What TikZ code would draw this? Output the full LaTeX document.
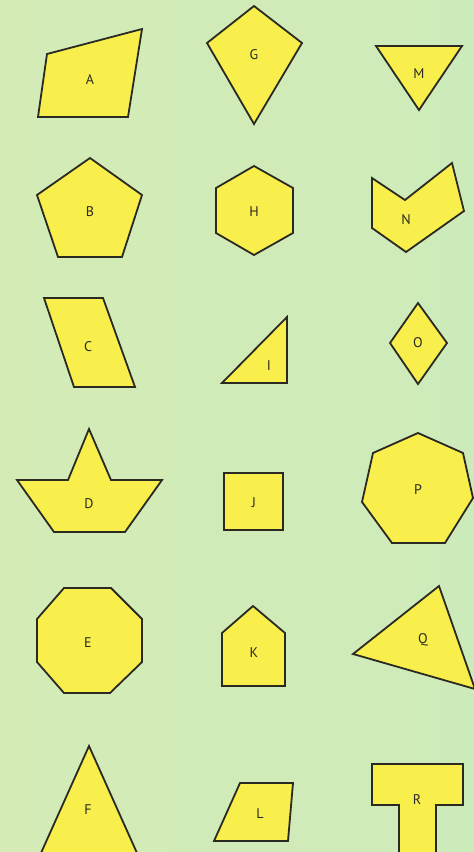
\documentclass[tikz,border=0pt]{standalone}
\usepackage{fontspec}
\setmainfont{PT Sans}
\definecolor{bgg}{HTML}{CDEBBA}
\definecolor{bgl}{HTML}{D4EBB6}
\definecolor{shapey}{HTML}{F8EE4C}
\definecolor{edge}{HTML}{2A2A22}
\begin{document}
\begin{tikzpicture}[x=1pt,y=-1pt,
  shp/.style={fill=shapey,draw=edge,line width=1.8pt,line join=miter},
  lbl/.style={font=\fontsize{14}{14}\selectfont,text=edge,inner sep=0pt}]
\useasboundingbox (0,0) rectangle (474,852);
\shade[left color=bgl,right color=bgg] (0,0) rectangle (474,852);
% column 1
\draw[shp] (47,54) -- (142,29) -- (128,117) -- (38,117) -- cycle;
\node[lbl] (A) at (90,80) {A};
\draw[shp] (90,158) -- (142,195) -- (122,257) -- (58,257) -- (37,195) -- cycle;
\node[lbl] (B) at (90,212) {B};
\draw[shp] (44,298) -- (103,298) -- (135,387) -- (74,387) -- cycle;
\node[lbl] (C) at (88,347) {C};
\draw[shp] (17,480) -- (68,480) -- (89,429) -- (111,480) -- (162,480) -- (125,532) -- (54,532) -- cycle;
\node[lbl] (D) at (89,504) {D};
\draw[shp] (64,588) -- (111,588) -- (142,619) -- (142,662) -- (110,693) -- (64,693) -- (37,662) -- (37,619) -- cycle;
\node[lbl] (E) at (88,643) {E};
\draw[shp] (89,746) -- (137,853) -- (41,853) -- cycle;
\node[lbl] (F) at (88,810) {F};
% column 2
\draw[shp] (254,6) -- (302,43) -- (254,124) -- (207,43) -- cycle;
\node[lbl] (G) at (254,55) {G};
\draw[shp] (254,166) -- (293,188) -- (293,233) -- (254,255) -- (216,233) -- (216,188) -- cycle;
\node[lbl] (H) at (254,212) {H};
\draw[shp] (222,383) -- (287,317) -- (287,383) -- cycle;
\node[lbl] (I) at (269,366) {I};
\draw[shp] (224,473) rectangle (283,530);
\node[lbl] (J) at (254,503) {J};
\draw[shp] (253,606) -- (285,633) -- (285,686) -- (222,686) -- (222,633) -- cycle;
\node[lbl] (K) at (254,653) {K};
\draw[shp] (240,783) -- (293,783) -- (288,841) -- (214,841) -- cycle;
\node[lbl] (L) at (260,814) {L};
% column 3
\draw[shp] (376,46) -- (462,46) -- (419,110) -- cycle;
\node[lbl] (M) at (419,74) {M};
\draw[shp] (372,178) -- (405,200) -- (452,163) -- (464,211) -- (406,252) -- (372,228) -- cycle;
\node[lbl] (N) at (406,220) {N};
\draw[shp] (418,303) -- (447,343) -- (418,384) -- (390,343) -- cycle;
\node[lbl] (O) at (418,343) {O};
\draw[shp] (418,433) -- (463,453) -- (473,498) -- (445,543) -- (392,543) -- (362,502) -- (373,453) -- cycle;
\node[lbl] (P) at (418,490) {P};
\draw[shp] (353,654) -- (439,586) -- (475,689) -- cycle;
\node[lbl] (Q) at (423,640) {Q};
\draw[shp] (372,764) -- (463,764) -- (463,805) -- (436,805) -- (436,853) -- (399,853) -- (399,805) -- (372,805) -- cycle;
\node[lbl] (R) at (417,800) {R};
\end{tikzpicture}
\end{document}
